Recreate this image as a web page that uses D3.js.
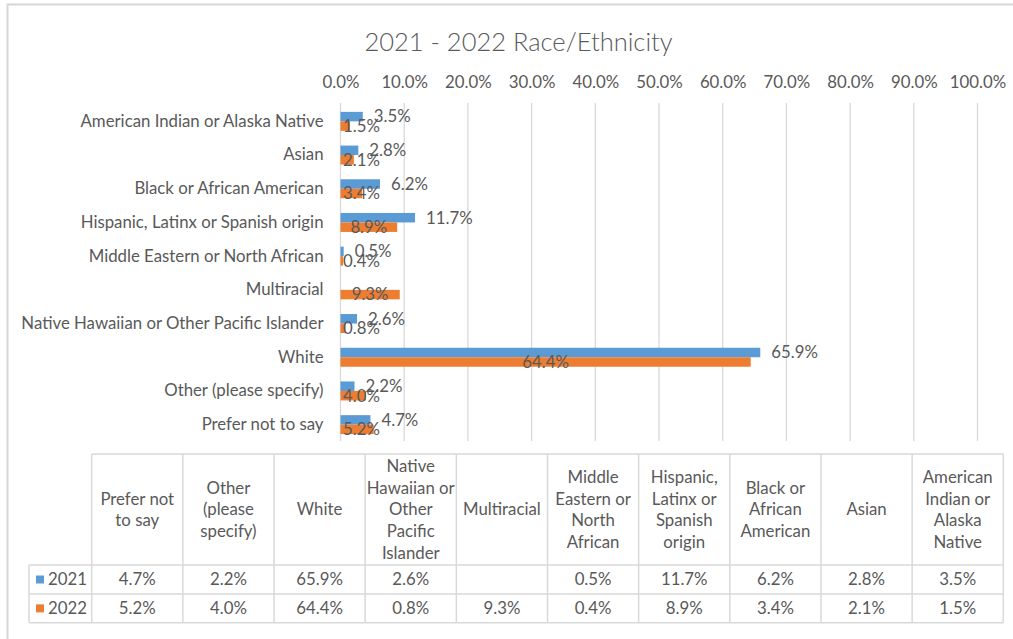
<!DOCTYPE html>
<html>
<head>
<meta charset="utf-8">
<script src="https://cdn.jsdelivr.net/npm/d3@7/dist/d3.min.js"></script>
<style>
  html, body { margin: 0; padding: 0; background: #fff; }
  svg { display: block; }
</style>
</head>
<body>
<script>
// Race/ethnicity shares, 2021 vs 2022 (percent)
const categories = [
  "American Indian or Alaska Native",
  "Asian",
  "Black or African American",
  "Hispanic, Latinx or Spanish origin",
  "Middle Eastern or North African",
  "Multiracial",
  "Native Hawaiian or Other Pacific Islander",
  "White",
  "Other (please specify)",
  "Prefer not to say"
];
const seriesNames = ["2021", "2022"];
const values2021 = [3.5, 2.8, 6.2, 11.7, 0.5, null, 2.6, 65.9, 2.2, 4.7];
const values2022 = [1.5, 2.1, 3.4, 8.9, 0.4, 9.3, 0.8, 64.4, 4.0, 5.2];
const xTicks = [0, 10, 20, 30, 40, 50, 60, 70, 80, 90, 100];
// Wrapped header text for the data table, same order as categories
const headerLines = [
  ["American", "Indian or", "Alaska", "Native"],
  ["Asian"],
  ["Black or", "African", "American"],
  ["Hispanic,", "Latinx or", "Spanish", "origin"],
  ["Middle", "Eastern or", "North", "African"],
  ["Multiracial"],
  ["Native", "Hawaiian or", "Other", "Pacific", "Islander"],
  ["White"],
  ["Other", "(please", "specify)"],
  ["Prefer not", "to say"]
];

const seriesValues = [values2021, values2022];
const colors = ["#5B9BD5", "#ED7D31"];
const FONT = "Lato, 'Open Sans', sans-serif";
const TEXT = "#595959";
const GRID = "#D9D9D9";
const fs = 16.8;
const fmt = v => v.toFixed(1) + "%";

const W = 1013, H = 639;
const svg = d3.select("body").append("svg")
  .attr("width", W).attr("height", H)
  .style("font-family", FONT);

svg.append("rect").attr("width", W).attr("height", H).attr("fill", "#fff");

// chart frame (top and left edges)
svg.append("path")
  .attr("d", `M7.5,${H} V4.5 H${W}`)
  .attr("fill", "none").attr("stroke", "#D6D6D6").attr("stroke-width", 2);

// title
svg.append("text")
  .attr("x", 518.5).attr("y", 42).attr("dy", "0.35em")
  .attr("text-anchor", "middle")
  .attr("font-size", 25.5).attr("font-weight", 300)
  .attr("fill", TEXT)
  .text("2021 - 2022 Race/Ethnicity");

// scales
const plotTop = 104.5, plotBottom = 441.5;
const x = d3.scaleLinear().domain([0, 100]).range([340.5, 977.5]);
const y = d3.scaleBand().domain(categories).range([plotTop, plotBottom])
  .paddingInner(0.437).paddingOuter(0.2185);
const ys = d3.scaleBand().domain(seriesNames).range([0, y.bandwidth()]);

// gridlines
svg.append("g").selectAll("line").data(xTicks).join("line")
  .attr("x1", d => x(d)).attr("x2", d => x(d))
  .attr("y1", 103).attr("y2", 441)
  .attr("stroke", GRID).attr("stroke-width", 1.3);

// top value axis
const xAxis = svg.append("g")
  .attr("transform", "translate(0,88)")
  .call(d3.axisTop(x).tickValues(xTicks).tickSize(0).tickPadding(0).tickFormat(fmt));
xAxis.select(".domain").remove();
xAxis.selectAll("text").attr("font-size", fs).attr("fill", TEXT).attr("font-family", FONT);

// category axis
const yAxis = svg.append("g")
  .attr("transform", `translate(${x(0)},0)`)
  .call(d3.axisLeft(y).tickSize(0).tickPadding(17));
yAxis.select(".domain").remove();
yAxis.selectAll("text").attr("font-size", fs).attr("fill", TEXT).attr("font-family", FONT);

// bars
const barData = [];
seriesNames.forEach((s, si) => {
  categories.forEach((c, ci) => {
    const v = seriesValues[si][ci];
    if (v != null) barData.push({ s, si, c, v });
  });
});

svg.append("g").selectAll("rect").data(barData).join("rect")
  .attr("x", x(0))
  .attr("y", d => y(d.c) + ys(d.s))
  .attr("width", d => x(d.v) - x(0))
  .attr("height", ys.bandwidth())
  .attr("fill", d => colors[d.si]);

// data labels: 2021 outside end, 2022 centered on the bar
const labels = svg.append("g").selectAll("text").data(barData).join("text")
  .attr("y", d => y(d.c) + ys(d.s) + ys.bandwidth() / 2)
  .attr("dy", "0.35em")
  .attr("font-size", fs).attr("fill", TEXT)
  .text(d => fmt(d.v));

labels.each(function (d) {
  const t = d3.select(this);
  if (d.si === 0) {
    t.attr("x", x(d.v) + 11).attr("text-anchor", "start");
  } else {
    const w = this.getComputedTextLength();
    const left = Math.max((x(0) + x(d.v)) / 2 - w / 2, x(0) + 2.5);
    t.attr("x", left).attr("text-anchor", "start");
  }
});

// data table
const tableCats = categories.slice().reverse();
const tableHeaders = headerLines.slice().reverse();
const cx = d3.scaleBand().domain(tableCats).range([91.7, 1003.3]);
const legendLeft = 29;
const headTop = 454, headBottom = 565;
const rowEdges = [565, 594, 622.7];

const tbl = svg.append("g");
const lineStyle = sel => sel.attr("stroke", GRID).attr("stroke-width", 1.5);

tbl.append("line").attr("x1", cx.range()[0]).attr("x2", cx.range()[1])
  .attr("y1", headTop).attr("y2", headTop).call(lineStyle);
rowEdges.forEach(ry => {
  tbl.append("line").attr("x1", legendLeft).attr("x2", cx.range()[1])
    .attr("y1", ry).attr("y2", ry).call(lineStyle);
});
const colEdges = tableCats.map(c => cx(c)).concat([cx.range()[1]]);
colEdges.forEach(cxv => {
  tbl.append("line").attr("x1", cxv).attr("x2", cxv)
    .attr("y1", headTop).attr("y2", rowEdges[2]).call(lineStyle);
});
tbl.append("line").attr("x1", legendLeft).attr("x2", legendLeft)
  .attr("y1", rowEdges[0]).attr("y2", rowEdges[2]).call(lineStyle);

// header cells
const headMid = (headTop + headBottom) / 2;
const lh = 21.7;
tableCats.forEach((c, i) => {
  const lines = tableHeaders[i];
  lines.forEach((ln, k) => {
    tbl.append("text")
      .attr("x", cx(c) + cx.bandwidth() / 2)
      .attr("y", headMid + (k - (lines.length - 1) / 2) * lh)
      .attr("dy", "0.35em")
      .attr("text-anchor", "middle")
      .attr("font-size", fs).attr("fill", TEXT)
      .text(ln);
  });
});

// value rows with legend keys
seriesNames.forEach((s, si) => {
  const rowMid = (rowEdges[si] + rowEdges[si + 1]) / 2;
  tbl.append("rect")
    .attr("x", 36).attr("y", rowMid - 4).attr("width", 8).attr("height", 8)
    .attr("fill", colors[si]);
  tbl.append("text")
    .attr("x", 48).attr("y", rowMid).attr("dy", "0.35em")
    .attr("font-size", fs).attr("fill", TEXT)
    .text(s);
  const vals = seriesValues[si].slice().reverse();
  tableCats.forEach((c, i) => {
    if (vals[i] == null) return;
    tbl.append("text")
      .attr("x", cx(c) + cx.bandwidth() / 2)
      .attr("y", rowMid).attr("dy", "0.35em")
      .attr("text-anchor", "middle")
      .attr("font-size", fs).attr("fill", TEXT)
      .text(fmt(vals[i]));
  });
});
</script>
</body>
</html>
